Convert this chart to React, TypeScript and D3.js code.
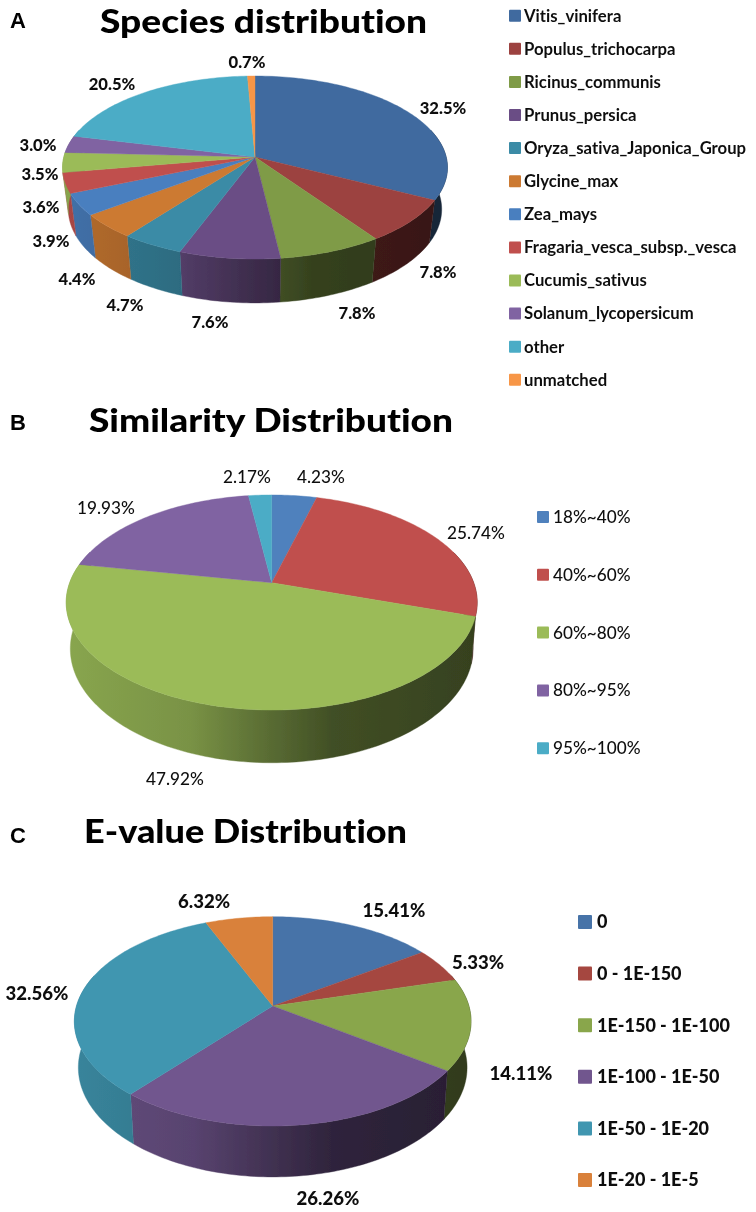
import React from "react";
import * as d3 from "d3";

// ---------- data ----------
const speciesNames = ["Vitis_vinifera","Populus_trichocarpa","Ricinus_communis","Prunus_persica","Oryza_sativa_Japonica_Group","Glycine_max","Zea_mays","Fragaria_vesca_subsp._vesca","Cucumis_sativus","Solanum_lycopersicum","other","unmatched"];
const speciesValues = [32.5,7.8,7.8,7.6,4.7,4.4,3.9,3.6,3.5,3.0,20.5,0.7];
const speciesLabels = ["32.5%","7.8%","7.8%","7.6%","4.7%","4.4%","3.9%","3.6%","3.5%","3.0%","20.5%","0.7%"];
const speciesColors = ["#3f6a9f","#9c423f","#7f9b47","#6a4e85","#3a8ba6","#cc7a33","#4a7fbf","#c0504d","#9bbb59","#8064a2","#4bacc6","#f79646"];

const similarityNames = ["18%~40%","40%~60%","60%~80%","80%~95%","95%~100%"];
const similarityValues = [4.23,25.74,47.92,19.93,2.17];
const similarityLabels = ["4.23%","25.74%","47.92%","19.93%","2.17%"];
const similarityColors = ["#4f81bd","#c0504d","#9bbb59","#8064a2","#4bacc6"];

const evalueNames = ["0","0 - 1E-150","1E-150 - 1E-100","1E-100 - 1E-50","1E-50 - 1E-20","1E-20 - 1E-5"];
const evalueValues = [15.41,5.33,14.11,26.26,32.56,6.32];
const evalueLabels = ["15.41%","5.33%","14.11%","26.26%","32.56%","6.32%"];
const evalueColors = ["#4673a8","#a5473f","#89a64c","#71568e","#4096b0","#d9813a"];

// ---------- layout (separate from the data) ----------
type Panel = {
  letter: string; letterY: number; title: string; titleX: number; titleY: number; titleW: number; titleSize: number;
  names: string[]; values: number[]; labels: string[]; colors: string[];
  cx: number; cy: number; a: number; b: number; k: number; d: number; s: number;
  labelAt: [number, number][]; labelSize: number; labelWeight: number;
  swatchX: number; swatchSize: number; textX: number; rowY: number; rowStep: number; legendSize: number; legendWeight: number;
};
const panels: Panel[] = [
  { letter: "A", letterY: 28, title: "Species distribution", titleX: 100, titleY: 33, titleW: 327, titleSize: 32,
    names: speciesNames, values: speciesValues, labels: speciesLabels, colors: speciesColors,
    cx: 255, cy: 157, a: 191.2, b: 90.3, k: 0.1148, d: 41.6, s: 0.97,
    labelAt: [[443,108],[438,272],[357,313],[210,322],[125,305],[77,279],[51,241],[41,207],[40,174],[38,145],[112,84],[247,62]],
    labelSize: 16.6, labelWeight: 900,
    swatchX: 509, swatchSize: 12, textX: 524, rowY: 15.7, rowStep: 33.1, legendSize: 16.7, legendWeight: 700 },
  { letter: "B", letterY: 430, title: "Similarity Distribution", titleX: 89, titleY: 432, titleW: 364, titleSize: 32,
    names: similarityNames, values: similarityValues, labels: similarityLabels, colors: similarityColors,
    cx: 271.7, cy: 582.7, a: 202, b: 103.9, k: 0.184, d: 45.1, s: 0.98,
    labelAt: [[321,477],[476,533],[175,779],[106,508],[247,477]],
    labelSize: 17.2, labelWeight: 500,
    swatchX: 537, swatchSize: 12, textX: 553, rowY: 517, rowStep: 57.8, legendSize: 17.2, legendWeight: 500 },
  { letter: "C", letterY: 843, title: "E-value Distribution", titleX: 84, titleY: 843, titleW: 323, titleSize: 32,
    names: evalueNames, values: evalueValues, labels: evalueLabels, colors: evalueColors,
    cx: 272.7, cy: 1006, a: 196.2, b: 102.4, k: 0.1467, d: 45.5, s: 0.98,
    labelAt: [[394,910],[478,962],[521,1073],[328,1198],[37,993],[204,901]],
    labelSize: 18.6, labelWeight: 900,
    swatchX: 578, swatchSize: 14, textX: 597, rowY: 922, rowStep: 51.6, legendSize: 18, legendWeight: 900 },
];

// brightness of the side wall from the left of the pie (0) to its right (1)
const shadeAt = [0, 0.3, 0.45, 0.65, 1];
const shadeBy = [0.88, 0.78, 0.62, 0.42, 0.35];

const UI = "Lato, 'Open Sans', sans-serif";
const NOLIG: React.CSSProperties = { fontVariantLigatures: "none" };
const lineGen = d3.line<[number, number]>();

function project(p: Panel, angle: number, z: number): [number, number] {
  const X = Math.sin(angle), Y = -Math.cos(angle);
  const w = 1 - p.k * Y;
  const sc = z > 0 ? p.s : 1;
  return [p.cx + (p.a * X * sc) / w, p.cy + (p.b * Y * sc + p.d * z) / w];
}

function rim(p: Panel, a0: number, a1: number, z: number): [number, number][] {
  const n = Math.max(2, Math.ceil((a1 - a0) / 0.02));
  return d3.range(n + 1).map((i) => project(p, a0 + ((a1 - a0) * i) / n, z));
}

function shaded(color: string, f: number) {
  const c = d3.rgb(color);
  return d3.rgb(c.r * f, c.g * f, c.b * f).formatHex();
}

function Pie3D({ p }: { p: Panel }) {
  const arcs = d3.pie<number>().sort(null)(p.values);
  const FRONT0 = Math.PI * 0.4, FRONT1 = Math.PI * 1.6;
  return (
    <g>
      <defs>
        {p.colors.map((c, i) => (
          <linearGradient key={i} id={`side-${p.letter}-${i}`} gradientUnits="userSpaceOnUse" x1={p.cx - p.a} x2={p.cx + p.a} y1={0} y2={0}>
            {shadeAt.map((t, j) => <stop key={j} offset={t} stopColor={shaded(c, shadeBy[j])} />)}
          </linearGradient>
        ))}
      </defs>
      {arcs.map((arc, i) => {
        const from = Math.max(arc.startAngle, FRONT0);
        const to = Math.min(arc.endAngle, FRONT1);
        if (to <= from) return null;
        const paint = `url(#side-${p.letter}-${i})`;
        return <path key={"s" + i} d={lineGen([...rim(p, from, to, 0), ...rim(p, from, to, 1).reverse()])! + "Z"} fill={paint} stroke={paint} strokeWidth={0.4} />;
      })}
      {arcs.map((arc, i) => (
        <path key={"t" + i} d={lineGen([[p.cx, p.cy], ...rim(p, arc.startAngle, arc.endAngle, 0)])! + "Z"} fill={p.colors[i]} stroke={p.colors[i]} strokeWidth={0.4} />
      ))}
    </g>
  );
}

function PanelView({ p }: { p: Panel }) {
  return (
    <g>
      <text x={10} y={p.letterY} fontFamily="'Liberation Sans', Arial, sans-serif" fontWeight={700} fontSize={22} fill="#000">{p.letter}</text>
      <text x={p.titleX} y={p.titleY} fontFamily={UI} fontWeight={900} fontSize={p.titleSize} fill="#000" style={NOLIG} textLength={p.titleW} lengthAdjust="spacingAndGlyphs">{p.title}</text>
      <Pie3D p={p} />
      {p.labels.map((l, i) => (
        <text key={i} x={p.labelAt[i][0]} y={p.labelAt[i][1]} dy="0.35em" textAnchor="middle" fontFamily={UI} fontWeight={p.labelWeight} fontSize={p.labelSize} fill="#111" style={NOLIG}>{l}</text>
      ))}
      {p.names.map((n, i) => {
        const y = p.rowY + i * p.rowStep;
        return (
          <g key={n}>
            <rect x={p.swatchX} y={y - p.swatchSize / 2} width={p.swatchSize} height={p.swatchSize} rx={1} fill={p.colors[i]} />
            <text x={p.textX} y={y} dy="0.35em" fontFamily={UI} fontWeight={p.legendWeight} fontSize={p.legendSize} fill="#111" style={NOLIG}>{n}</text>
          </g>
        );
      })}
    </g>
  );
}

export default function App() {
  return (
    <svg width={756} height={1212} style={{ position: "absolute", left: 0, top: 0, background: "#fff" }}>
      <defs>
        <filter id="soft" x="0" y="0" width="100%" height="100%"><feGaussianBlur stdDeviation="0.45" /></filter>
      </defs>
      <g filter="url(#soft)">
        <rect width={756} height={1212} fill="#fff" />
        {panels.map((p) => <PanelView key={p.letter} p={p} />)}
      </g>
    </svg>
  );
}
